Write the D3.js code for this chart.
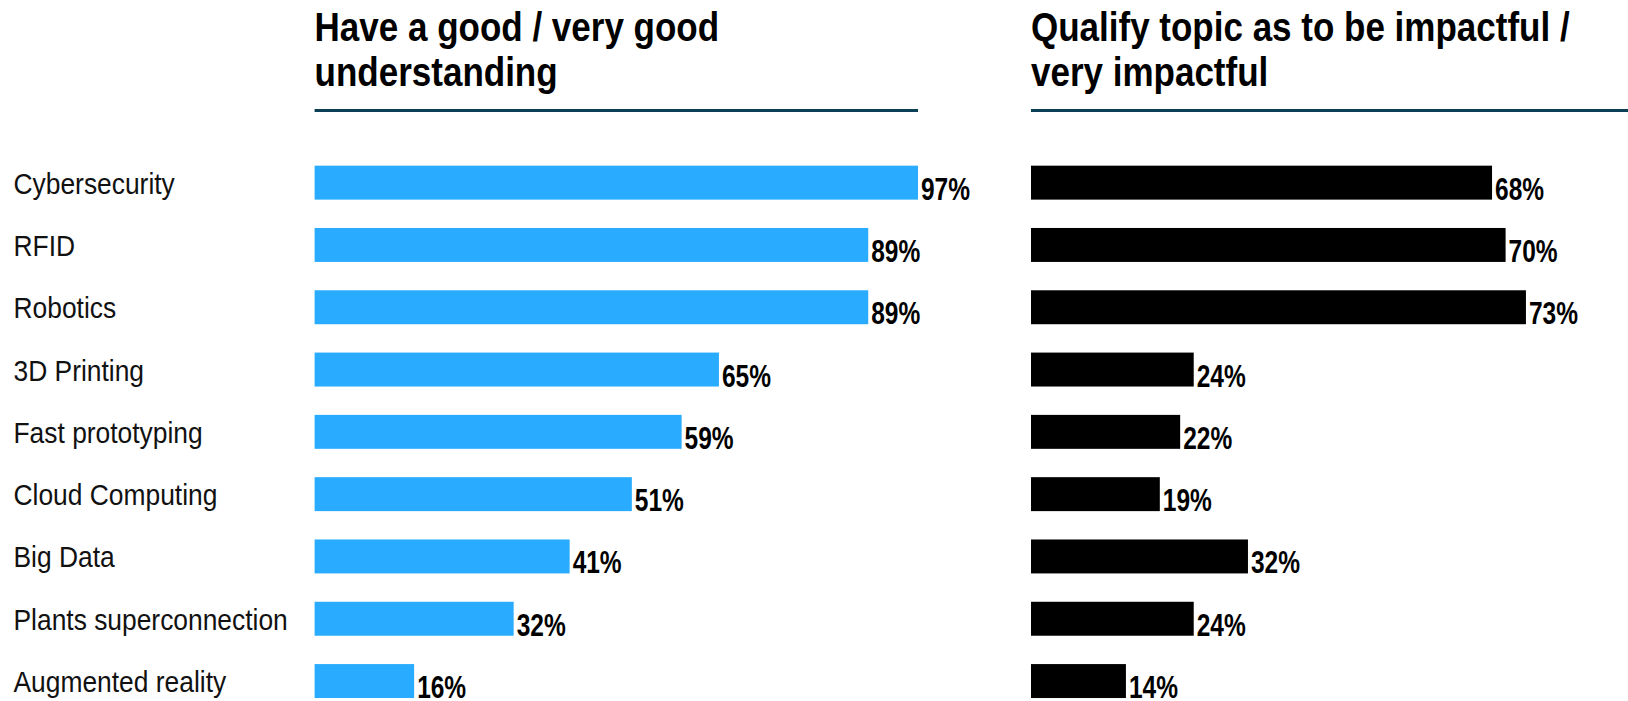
<!DOCTYPE html>
<html>
<head>
<meta charset="utf-8">
<script src="https://cdn.jsdelivr.net/npm/d3@7"></script>
<style>
  html, body { margin: 0; padding: 0; background: #fff; }
  svg { display: block; }
  text { font-family: "Liberation Sans", Arial, sans-serif; }
</style>
</head>
<body>
<svg id="chart" width="1628" height="701"></svg>
<script>
// Topics surveyed
const categories = [
  "Cybersecurity", "RFID", "Robotics", "3D Printing", "Fast prototyping",
  "Cloud Computing", "Big Data", "Plants superconnection", "Augmented reality"
];
// Share of respondents with a good / very good understanding (%)
const understanding = [97, 89, 89, 65, 59, 51, 41, 32, 16];
// Share of respondents rating the topic impactful / very impactful (%)
const impactful = [68, 70, 73, 24, 22, 19, 32, 24, 14];

const panelTitles = [
  ["Have a good / very good", "understanding"],
  ["Qualify topic as to be impactful /", "very impactful"]
];

const svg = d3.select("#chart");

// Condensed lettering: squeeze text horizontally around its anchor point
function condensed(sel, x, y, sx) {
  return sel.attr("transform", `translate(${x},${y}) scale(${sx},1)`);
}

const y = d3.scaleBand()
  .domain(categories)
  .range([151.5, 712.2])
  .paddingInner(0.455)
  .paddingOuter(0.2275);

const panels = [
  { values: understanding, color: "#29acff", x0: 314.6, x1: 918, max: 97, ruleEnd: 918 },
  { values: impactful, color: "#000000", x0: 1031, x1: 1031 + 73 * 6.78, max: 73, ruleEnd: 1628 }
];

// Category labels on the left
svg.append("g")
  .selectAll("text")
  .data(categories)
  .join("text")
  .attr("font-size", 29)
  .attr("fill", "#111")
  .each(function (d) {
    condensed(d3.select(this), 13.5, y(d) + y.bandwidth() / 2 + 11, 0.91);
  })
  .text(d => d);

panels.forEach((p, i) => {
  const x = d3.scaleLinear().domain([0, p.max]).range([p.x0, p.x1]);
  const g = svg.append("g");

  // Panel heading, two lines
  panelTitles[i].forEach((line, k) => {
    g.append("text")
      .attr("font-weight", "bold")
      .attr("font-size", 40)
      .attr("fill", "#000")
      .call(condensed, p.x0, 41 + k * 45, 0.875)
      .text(line);
  });

  // Rule under the heading
  g.append("line")
    .attr("x1", p.x0).attr("x2", p.ruleEnd)
    .attr("y1", 110.5).attr("y2", 110.5)
    .attr("stroke", "#0b3f55")
    .attr("stroke-width", 3);

  // Bars
  g.selectAll("rect")
    .data(categories)
    .join("rect")
    .attr("x", x(0))
    .attr("y", d => y(d))
    .attr("width", (d, j) => x(p.values[j]) - x(0))
    .attr("height", y.bandwidth())
    .attr("fill", p.color);

  // Value labels
  g.selectAll("text.val")
    .data(categories)
    .join("text")
    .attr("class", "val")
    .attr("font-size", 31)
    .attr("font-weight", "bold")
    .attr("fill", "#000")
    .each(function (d, j) {
      condensed(d3.select(this), x(p.values[j]) + 3, y(d) + y.bandwidth(), 0.79);
    })
    .text((d, j) => p.values[j] + "%");
});
</script>
</body>
</html>
